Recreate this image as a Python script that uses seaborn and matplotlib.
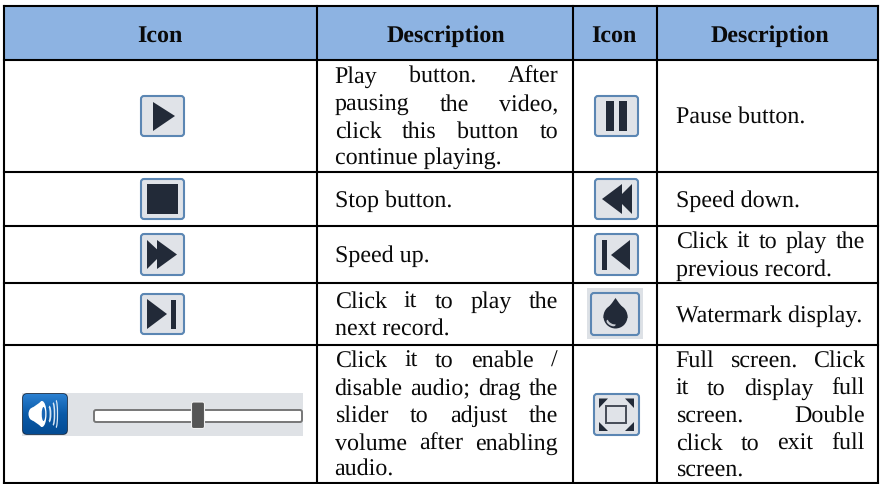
import numpy as np
import pandas as pd
import seaborn as sns
import matplotlib.pyplot as plt
from matplotlib.colors import LinearSegmentedColormap
from matplotlib.patches import FancyBboxPatch, Polygon, Rectangle, Circle, Ellipse, Arc

header_labels = ["Icon", "Description", "Icon", "Description"]

# lines of each description cell
left_desc = [
    ["Play button. After", "pausing the video,", "click this button to", "continue playing."],
    ["Stop button."],
    ["Speed up."],
    ["Click it to play the", "next record."],
    ["Click it to enable /", "disable audio; drag the", "slider to adjust the",
     "volume after enabling", "audio."],
]
right_desc = [
    ["Pause button."],
    ["Speed down."],
    ["Click it to play the", "previous record."],
    ["Watermark display."],
    ["Full screen. Click", "it to display full", "screen. Double",
     "click to exit full", "screen."],
]

# --- layout in pixels ---
W, H = 880, 484
col_x = [4, 317, 573, 657, 878]
row_y = [6, 60, 172, 226, 283, 345, 483]
header_base = 42
header_mid = [160, 446, 614, 770]
left_text = (334.6, 558)
right_text = (675.6, 865)
left_base = [[83, 111, 138, 164], [207], [262], [308, 336], [367, 395, 422, 450, 476]]
right_base = [[124], [207], [248, 276], [322], [367, 395, 422, 450, 476]]

INK = "#222a38"
FACE = "#e0e3e8"
EDGE = "#5b86b3"

sns.set_theme(style="white")
plt.rcParams['font.family'] = ['Liberation Serif', 'DejaVu Serif']
plt.rcParams['text.hinting'] = 'no_hinting'
plt.rcParams['text.hinting_factor'] = 1

fig = plt.figure(figsize=(W / 100, H / 100), dpi=100)
ax = fig.add_axes([0, 0, 1, 1])
ax.set_xlim(0, W)
ax.set_ylim(H, 0)
ax.set_xticks([])
ax.set_yticks([])
sns.despine(ax=ax, left=True, bottom=True)

# Header band
ax.add_patch(Rectangle((col_x[0], row_y[0]), col_x[-1] - col_x[0], row_y[1] - row_y[0],
                       fc="#8db3e2", ec="none", zorder=1))

# Table rules, as one long-form frame
rules = []
for i, x in enumerate(col_x):
    rules += [(f"v{i}", x, row_y[0]), (f"v{i}", x, row_y[-1])]
for i, y in enumerate(row_y):
    rules += [(f"h{i}", col_x[0], y), (f"h{i}", col_x[-1], y)]
rule_df = pd.DataFrame(rules, columns=["rule", "x", "y"])
sns.lineplot(data=rule_df, x="x", y="y", units="rule", estimator=None, sort=False,
             color="black", lw=1.5, ax=ax, legend=False, zorder=5,
             solid_capstyle="projecting")
ax.set_xlim(0, W)
ax.set_ylim(H, 0)
ax.set_xlabel("")
ax.set_ylabel("")


def put_line(s, base, x0, x1, justify):
    # Word-by-word placement so justified lines reach the right edge
    kw = dict(fontsize=17.2, color="#0a0a0a", va="baseline", ha="left", zorder=6)
    if not justify:
        ax.text(x0, base, s, **kw)
        return
    words = [ax.text(x0, base, w, **kw) for w in s.split()]
    r = fig.canvas.get_renderer()
    widths = [t.get_window_extent(r).width for t in words]
    gap = (x1 - x0 - sum(widths)) / (len(words) - 1)
    x = x0
    for t, w in zip(words, widths):
        t.set_x(x)
        x += w + gap


def put_cell(lines, bases, span):
    for k, (s, b) in enumerate(zip(lines, bases)):
        put_line(s, b, span[0], span[1], len(lines) > 1 and k < len(lines) - 1)


for lab, mid in zip(header_labels, header_mid):
    ax.text(mid, header_base, lab, ha="center", va="baseline", fontsize=17.4,
            fontweight="bold", color="#0a0a0a", zorder=6)
for lines, bases in zip(left_desc, left_base):
    put_cell(lines, bases, left_text)
for lines, bases in zip(right_desc, right_base):
    put_cell(lines, bases, right_text)


def button(x0, y0, x1, y1, fc=FACE, ec=EDGE):
    ax.add_patch(FancyBboxPatch((x0 + 1, y0 + 1), x1 - x0 - 2, y1 - y0 - 2,
                                boxstyle="round,pad=0,rounding_size=3",
                                fc=fc, ec=ec, lw=1.5, zorder=3))


def glyph(points, color=INK):
    ax.add_patch(Polygon(points, closed=True, fc=color, ec="none", zorder=4))


def box(x0, y0, x1, y1, color=INK):
    ax.add_patch(Rectangle((x0, y0), x1 - x0, y1 - y0, fc=color, ec="none", zorder=4))


# Play
button(140, 95, 185, 137)
glyph([(153, 102), (175, 116), (153, 131)])
# Stop
button(140, 178, 185, 220)
box(147, 184, 178, 214)
# Speed up
button(140, 233, 185, 276)
glyph([(147, 240), (162, 254), (147, 269)])
glyph([(157, 240), (177, 254.5), (157, 269)])
# Next
button(140, 293, 185, 335)
glyph([(147, 299), (167, 314), (147, 329)])
box(171, 300, 176, 329)
# Pause
button(594, 95, 639, 137)
box(606, 101, 614, 131)
box(619, 101, 627, 131)
# Speed down
button(594, 178, 639, 220)
glyph([(632, 184), (617, 199), (632, 214)])
glyph([(622, 184), (602, 199), (622, 214)])
# Previous
button(594, 233, 639, 276)
box(602, 240, 607, 270)
glyph([(630, 240), (611, 255), (630, 270)])
# Watermark
ax.add_patch(Rectangle((587, 288), 56, 51, fc="#dde1e6", ec="none", zorder=2))
button(590, 292, 640, 336)
glyph([(615.5, 298), (612, 303), (607, 309), (604, 314), (603.5, 318),
       (627.5, 318), (627, 314), (624, 309), (619, 303)])
ax.add_patch(Circle((615.5, 316.5), 12, fc=INK, ec="none", zorder=4))
ax.add_patch(Ellipse((611, 323), 10, 5, angle=30, fc="#c8ccd3", ec="none", zorder=4.5))
ax.add_patch(Ellipse((612, 321.5), 9, 4, angle=30, fc=INK, ec="none", zorder=4.6))
# Full screen
button(593, 393, 640, 436)
ax.add_patch(Rectangle((606, 406), 20, 17, fc="none", ec="#454b57", lw=1.4, zorder=4))
glyph([(599, 398.5), (608, 398.5), (599, 408)])
glyph([(634, 398.5), (625, 398.5), (634, 408)])
glyph([(599, 431), (608, 431), (599, 422)])
glyph([(634, 431), (625, 431), (634, 422)])

# Volume bar
ax.add_patch(Rectangle((22, 393), 281, 43, fc="#dfe2e6", ec="none", zorder=2))
track = FancyBboxPatch((94, 410), 208, 12, boxstyle="round,pad=0,rounding_size=2",
                       fc="white", ec="#777777", lw=1.4, zorder=3)
ax.add_patch(track)
ax.add_patch(FancyBboxPatch((191.5, 402), 13, 26.5, boxstyle="round,pad=0,rounding_size=2",
                            fc="#555555", ec="#f0f0f0", lw=0.8, zorder=4))
speaker = FancyBboxPatch((23, 394), 44, 40, boxstyle="round,pad=0,rounding_size=4",
                         fc="#1a66b4", ec="#10253f", lw=1.2, zorder=3)
ax.add_patch(speaker)
grad = np.linspace(0, 1, 40).reshape(-1, 1)
im = ax.imshow(grad, extent=(23, 67, 434, 394), aspect="auto", zorder=3.2,
               cmap=LinearSegmentedColormap.from_list("btn", ["#2a7fd0", "#0a5aa8", "#044c94"]))
im.set_clip_path(speaker)
# speaker glyph
ax.add_patch(Ellipse((33, 414), 9, 13, fc="white", ec="none", zorder=4))
glyph([(32, 408), (42, 401), (42, 427), (32, 420)], "white")
ax.add_patch(Ellipse((42, 414), 9, 26, fc="white", ec="none", zorder=4))
ax.add_patch(Ellipse((43.5, 414), 3.5, 14, fc="#1a66b4", ec="none", zorder=4.1))
for cx, hh, lw in [(49, 15, 1.3), (53, 22, 1.1), (56, 27, 0.9)]:
    ax.add_patch(Arc((cx, 414), 3, hh, theta1=-90, theta2=90, color="#d8e6f4", lw=lw, zorder=4))
ax.set_xlim(0, W)
ax.set_ylim(H, 0)

fig.savefig("out.png", dpi=100)
